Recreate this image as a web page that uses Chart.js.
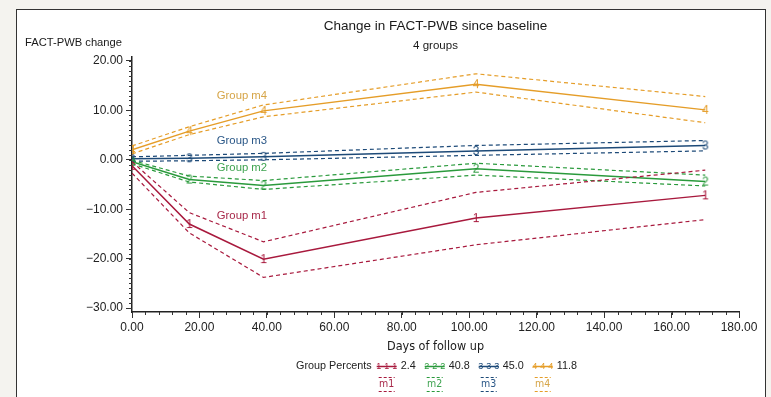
<!DOCTYPE html>
<html><head><meta charset="utf-8">
<script src="https://cdn.jsdelivr.net/npm/chart.js@4/dist/chart.umd.min.js"></script>
<style>
html,body{margin:0;padding:0;background:#f4f3ef;overflow:hidden;}
#frame{position:absolute;left:16px;top:9px;width:750px;height:400px;background:#fff;border:1px solid #333;box-sizing:border-box;}
#wrap{position:absolute;left:0;top:0;width:771px;height:397px;}
</style></head><body>
<div id="frame"></div>
<div id="wrap"><canvas id="c" width="771" height="397"></canvas></div>
<script>
// ---- data ----
const days = [0, 17, 39, 102, 170];
const m1 = [-1.2, -13.0, -20.1, -11.8, -7.2];
const m1Upper = [-0.4, -10.7, -16.6, -6.6, -2.1];
const m1Lower = [-2.7, -14.8, -23.8, -17.2, -12.1];
const m2 = [-0.4, -4.0, -5.2, -1.8, -4.4];
const m2Upper = [-0.1, -3.3, -4.2, -0.7, -3.1];
const m2Lower = [-0.8, -4.5, -6.0, -3.1, -5.3];
const m3 = [0.2, 0.3, 0.6, 1.8, 2.9];
const m3Upper = [0.6, 0.9, 1.3, 2.9, 3.9];
const m3Lower = [-0.3, -0.2, 0.0, 0.9, 1.8];
const m4 = [2.0, 5.8, 9.9, 15.3, 10.1];
const m4Upper = [2.8, 6.7, 11.1, 17.4, 12.8];
const m4Lower = [1.2, 5.1, 8.7, 13.7, 7.5];
const groupNames = ['m1', 'm2', 'm3', 'm4'];
const groupPercents = ['2.4', '40.8', '45.0', '11.8'];
const xTicks = [0, 20, 40, 60, 80, 100, 120, 140, 160, 180];
const yTicks = [-30, -20, -10, 0, 10, 20];

// ---- styles ----
const colors = ['#a8193d', '#2a9a3c', '#1d4a78', '#e59d28'];
const labelColors = ['#a8294a', '#3ea350', '#2a5787', '#d6a548'];
const FONT = '"Liberation Sans", Arial, sans-serif';
const NARROW = '"Liberation Sans Narrow", "DejaVu Sans Condensed", sans-serif';
const fmt = v => { const s = Math.abs(Number(v)).toFixed(2); return Number(v) < 0 ? '\u2212' + s : s; };

function digitCanvas(d, color) {
  const c = document.createElement('canvas');
  c.width = 10; c.height = 12;
  const g = c.getContext('2d');
  g.fillStyle = color;
  g.font = '12px ' + FONT;
  g.textAlign = 'center'; g.textBaseline = 'middle';
  g.fillText(d, 5, 6.5);
  return c;
}

const mains = [m1, m2, m3, m4];
const uppers = [m1Upper, m2Upper, m3Upper, m4Upper];
const lowers = [m1Lower, m2Lower, m3Lower, m4Lower];
const toPts = arr => arr.map((v, i) => ({x: days[i], y: v}));

const datasets = [];
for (let g = 0; g < 4; g++) {
  [uppers[g], lowers[g]].forEach((arr, k) => datasets.push({
    label: 'ci ' + groupNames[g] + (k ? ' lower' : ' upper'),
    data: toPts(arr), borderColor: colors[g], borderWidth: 1.2,
    borderDash: [4, 3], pointRadius: 0, fill: false, tension: 0
  }));
}
for (let g = 0; g < 4; g++) {
  datasets.push({
    label: groupNames[g], data: toPts(mains[g]), borderColor: colors[g],
    borderWidth: 1.5, pointStyle: digitCanvas(String(g + 1), colors[g]),
    pointRadius: 5, fill: false, tension: 0
  });
}

const groupLabelPos = {x: 32.6, y: [-11.4, -1.7, 3.8, 13.0]};

const textPlugin = {
  id: 'texts',
  afterDraw(chart) {
    const {ctx, chartArea: ca, scales} = chart;
    const xs = scales.x, ys = scales.y;
    const cx = (ca.left + ca.right) / 2;
    ctx.save();
    // minor ticks
    ctx.strokeStyle = '#333'; ctx.lineWidth = 1;
    for (let v = -30; v <= 20; v += 1) {
      const py = Math.round(ys.getPixelForValue(v)) + 0.5;
      ctx.beginPath(); ctx.moveTo(ca.left - 3, py); ctx.lineTo(ca.left, py); ctx.stroke();
    }
    for (let v = 0; v <= 180; v += 4) {
      const px = Math.round(xs.getPixelForValue(v)) + 0.5;
      ctx.beginPath(); ctx.moveTo(px, ca.bottom); ctx.lineTo(px, ca.bottom + 3); ctx.stroke();
    }
    // titles
    ctx.fillStyle = '#1a1a1a';
    ctx.textAlign = 'center'; ctx.textBaseline = 'middle';
    ctx.font = '13.5px ' + FONT;
    ctx.fillText('Change in FACT-PWB since baseline', cx, 26);
    ctx.font = '11.5px ' + FONT;
    ctx.fillText('4 groups', cx, 45.5);
    ctx.textAlign = 'left';
    ctx.font = '11.2px ' + FONT;
    ctx.fillText('FACT-PWB change', 25, 42.5);
    // group labels
    ctx.textAlign = 'center';
    ctx.font = '11.3px ' + FONT;
    for (let g = 0; g < 4; g++) {
      ctx.fillStyle = labelColors[g];
      ctx.fillText('Group ' + groupNames[g], xs.getPixelForValue(groupLabelPos.x), ys.getPixelForValue(groupLabelPos.y[g]));
    }
    // legend
    const ly = 366.5;
    ctx.font = '10.8px ' + FONT;
    const head = 'Group Percents';
    const sampleW = 20, gapBefore = 5, gapAfter = 4, gapEntry = 9;
    let total = ctx.measureText(head).width;
    for (let g = 0; g < 4; g++) total += (g ? gapEntry : gapBefore) + sampleW + gapAfter + ctx.measureText(groupPercents[g]).width;
    let x = cx + 1 - total / 2;
    ctx.textAlign = 'left'; ctx.fillStyle = '#222';
    ctx.fillText(head, x, ly);
    x += ctx.measureText(head).width;
    for (let g = 0; g < 4; g++) {
      x += g ? gapEntry : gapBefore;
      // sample line
      ctx.strokeStyle = colors[g]; ctx.lineWidth = 1.5; ctx.setLineDash([]);
      ctx.beginPath(); ctx.moveTo(x, ly); ctx.lineTo(x + sampleW, ly); ctx.stroke();
      ctx.fillStyle = colors[g]; ctx.font = '9px ' + FONT; ctx.textAlign = 'center';
      [0.1, 0.5, 0.9].forEach(f => ctx.fillText(String(g + 1), x + f * sampleW, ly));
      const mid = x + sampleW / 2;
      // second row
      ctx.lineWidth = 1.2; ctx.setLineDash([3, 2]);
      [377.5, 391.5].forEach(yy => { ctx.beginPath(); ctx.moveTo(mid - 8, yy); ctx.lineTo(mid + 8, yy); ctx.stroke(); });
      ctx.setLineDash([]);
      ctx.fillStyle = labelColors[g]; ctx.font = '10.5px ' + NARROW;
      ctx.fillText(groupNames[g], mid, 384.5);
      x += sampleW + gapAfter;
      ctx.font = '10.8px ' + FONT; ctx.textAlign = 'left'; ctx.fillStyle = '#222';
      ctx.fillText(groupPercents[g], x, ly);
      x += ctx.measureText(groupPercents[g]).width;
    }
    ctx.restore();
  }
};

new Chart(document.getElementById('c'), {
  type: 'line',
  data: {datasets},
  plugins: [textPlugin],
  options: {
    responsive: false, animation: false,
    layout: {padding: {left: 82, right: 32, top: 57, bottom: 43}},
    plugins: {legend: {display: false}, tooltip: {enabled: false}},
    scales: {
      x: {
        type: 'linear', min: 0, max: 180,
        afterFit: s => { s.height = 42; },
        afterBuildTicks: s => { s.ticks = xTicks.map(v => ({value: v})); },
        grid: {drawOnChartArea: false, tickLength: 6, color: '#333'},
        border: {color: '#222', width: 1.5},
        ticks: {font: {family: FONT, size: 12}, color: '#222', padding: 2, maxRotation: 0, autoSkip: false,
                callback: fmt},
        title: {display: true, text: 'Days of follow up', font: {family: NARROW, size: 12.5}, color: '#1a1a1a', padding: 0}
      },
      y: {
        type: 'linear', min: -30.8, max: 20.8,
        afterFit: s => { s.width = 50; },
        afterBuildTicks: s => { s.ticks = yTicks.map(v => ({value: v})); },
        grid: {drawOnChartArea: false, tickLength: 6, color: '#333'},
        border: {color: '#222', width: 1.5},
        ticks: {font: {family: FONT, size: 12}, color: '#222', padding: 3, autoSkip: false,
                callback: fmt}
      }
    }
  }
});
</script>
</body></html>
